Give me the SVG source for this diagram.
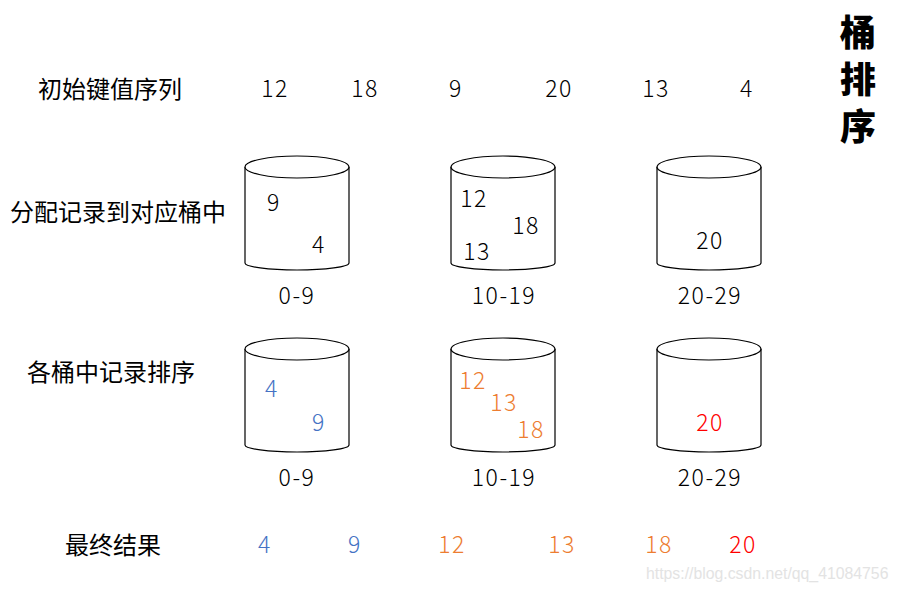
<svg xmlns="http://www.w3.org/2000/svg" width="899" height="591" viewBox="0 0 899 591">
<defs>
<style>
text{font-family:"Noto Sans CJK SC","Liberation Sans",sans-serif;}
.cn{font-size:24px;fill:#000;text-anchor:middle;}
.n{font-size:23px;font-weight:300;letter-spacing:1.5px;fill:#000;text-anchor:middle;}
.b{fill:#4472C4;}
.o{fill:#ED7D31;}
.r{fill:#FF0000;}
.cyl{fill:#fff;stroke:#000;stroke-width:1.2;}
.title{font-size:36px;font-weight:900;fill:#000;text-anchor:middle;}
.wm{font-size:15.8px;fill:#e3e3e3;font-family:"Liberation Sans",sans-serif;}
</style>
<g id="cylshape">
<path class="cyl" d="M-52,0 L-52,96 A52,7 0 0 0 52,96 L52,0"/>
<ellipse class="cyl" cx="0" cy="0" rx="52" ry="11"/>
</g>
</defs>
<rect width="899" height="591" fill="#fff"/>

<g id="title">
<text class="title" x="858" y="46">桶</text>
<text class="title" x="858" y="93">排</text>
<text class="title" x="858" y="140">序</text>
</g>

<g id="row1">
<text class="cn" x="110" y="98">初始键值序列</text>
<text class="n" x="275" y="97">12</text>
<text class="n" x="365" y="97">18</text>
<text class="n" x="456" y="97">9</text>
<text class="n" x="559" y="97">20</text>
<text class="n" x="656" y="97">13</text>
<text class="n" x="747" y="97">4</text>
</g>

<g id="row2">
<text class="cn" x="118" y="221">分配记录到对应桶中</text>
<g id="bucket1a">
<use href="#cylshape" x="297" y="167"/>
<text class="n" x="274" y="211">9</text>
<text class="n" x="319" y="253">4</text>
<text class="n" x="297" y="304">0-9</text>
</g>
<g id="bucket2a">
<use href="#cylshape" x="503" y="167"/>
<text class="n" x="474" y="207">12</text>
<text class="n" x="526" y="234">18</text>
<text class="n" x="477" y="260">13</text>
<text class="n" x="504" y="304">10-19</text>
</g>
<g id="bucket3a">
<use href="#cylshape" x="709" y="167"/>
<text class="n" x="710" y="249">20</text>
<text class="n" x="710" y="304">20-29</text>
</g>
</g>

<g id="row3">
<text class="cn" x="111" y="381">各桶中记录排序</text>
<g id="bucket1b">
<use href="#cylshape" x="297" y="349"/>
<text class="n b" x="272" y="397">4</text>
<text class="n b" x="319" y="431">9</text>
<text class="n" x="297" y="486">0-9</text>
</g>
<g id="bucket2b">
<use href="#cylshape" x="503" y="349"/>
<text class="n o" x="473" y="389">12</text>
<text class="n o" x="504" y="411">13</text>
<text class="n o" x="531" y="438">18</text>
<text class="n" x="504" y="486">10-19</text>
</g>
<g id="bucket3b">
<use href="#cylshape" x="709" y="349"/>
<text class="n r" x="710" y="431">20</text>
<text class="n" x="710" y="486">20-29</text>
</g>
</g>

<g id="row4">
<text class="cn" x="113" y="554">最终结果</text>
<text class="n b" x="265" y="553">4</text>
<text class="n b" x="355" y="553">9</text>
<text class="n o" x="452" y="553">12</text>
<text class="n o" x="562" y="553">13</text>
<text class="n o" x="659" y="553">18</text>
<text class="n r" x="743" y="553">20</text>
</g>

<g id="connectors"></g>

<text class="wm" x="646" y="579">https://blog.csdn.net/qq_41084756</text>
</svg>
